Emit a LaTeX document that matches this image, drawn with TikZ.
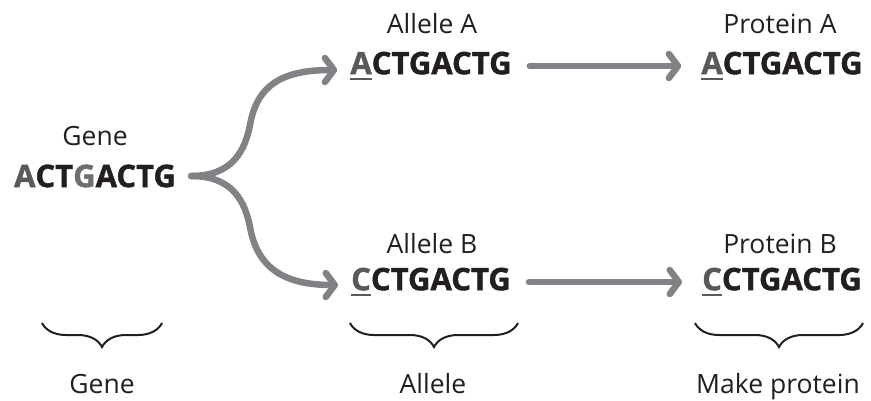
\documentclass[tikz,border=0pt]{standalone}
\usepackage{fontspec}
\setmainfont{Open Sans}
\newfontfamily\seqfont{Open Sans}[BoldFeatures={FakeBold=1.3}]
\usetikzlibrary{arrows.meta,decorations.pathreplacing}

\definecolor{ink}{HTML}{231F20}
\definecolor{arrowgray}{HTML}{808285}
\definecolor{basegray}{HTML}{58595B}
\definecolor{lightbase}{HTML}{6D6E71}

% first base of a sequence, grey and underlined
\newcommand\mutbase[1]{\textcolor{basegray}{\setbox0\hbox{#1}\rlap{\rule[-6pt]{\wd0}{2.6pt}}\box0}}

\begin{document}
\begin{tikzpicture}[x=1pt, y=-1pt]
    \tikzset{
      seq/.style={inner sep=0pt, text=ink, font=\fontsize{31}{31}\seqfont\bfseries},
      lbl/.style={inner sep=0pt, anchor=base, text=ink, font=\fontsize{26.5}{26.5}\selectfont},
      flow/.style={draw=arrowgray, line width=6.5pt, line cap=round,
        -{Straight Barb[length=9pt, width=24pt, round]}},
      brc/.style={draw=ink, line width=2pt,
        decorate, decoration={brace, mirror, amplitude=24pt}},
    }
    \useasboundingbox (0,0) rectangle (871,400);

    % sequences
    \node[seq] (geneseq) at (95,176)
      {\textcolor{basegray}{A}CT\textcolor{lightbase}{G}ACTG};
    \node[seq] (alleleAseq) at (431,66) {\mutbase{A}CTGACTG};
    \node[seq] (proteinAseq) at (782,66) {\mutbase{A}CTGACTG};
    \node[seq] (alleleBseq) at (431,282) {\mutbase{C}CTGACTG};
    \node[seq] (proteinBseq) at (782,282) {\mutbase{C}CTGACTG};

    % labels
    \path
    foreach \name/\x/\y/\txt in {
      gene/95/145/Gene, alleleA/432/33/Allele A, proteinA/780/33/Protein A,
      alleleB/432/253/Allele B, proteinB/780/253/Protein B,
      genecap/102/393/Gene, allelecap/433/393/Allele, proteincap/778/393/Make protein
    } { (\x,\y) node[lbl] (\name) {\txt} };

    % branching arrows
    \draw[flow] ([xshift=15pt]geneseq.east)
      .. controls +(42,0) and +(-5,25) .. (250,125)
      .. controls +(7,-40) and +(-55,0) .. ([xshift=-13pt,yshift=-4pt]alleleAseq.west);
    \draw[flow] ([xshift=15pt]geneseq.east)
      .. controls +(42,0) and +(-5,-25) .. (250,227)
      .. controls +(7,40) and +(-55,0) .. ([xshift=-13pt,yshift=-3pt]alleleBseq.west);
    \draw[flow, shorten <=18pt, shorten >=20pt] (alleleAseq.east) -- (proteinAseq.west);
    \draw[flow, shorten <=18pt, shorten >=20pt] (alleleBseq.east) -- (proteinBseq.west);

    % braces
    \path
    foreach \name/\xa/\xb in {gb/42/162, ab/350/518, pb/695/863} {
      (\xa,323) coordinate (\name-w) (\xb,323) coordinate (\name-e)
    };
    \draw[brc] (gb-w) -- (gb-e);
    \draw[brc] (ab-w) -- (ab-e);
    \draw[brc] (pb-w) -- (pb-e);
\end{tikzpicture}
\end{document}
